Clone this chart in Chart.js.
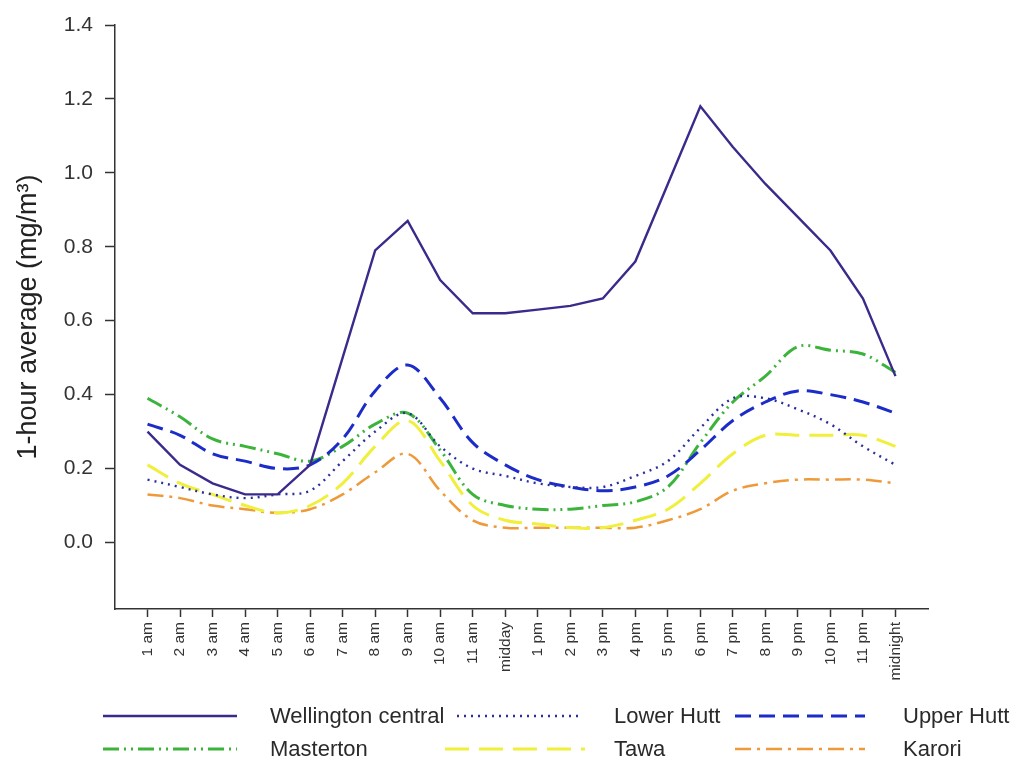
<!DOCTYPE html>
<html>
<head>
<meta charset="utf-8">
<script src="https://cdn.jsdelivr.net/npm/chart.js@4.4.1/dist/chart.umd.min.js"></script>
<style>
  html, body { margin: 0; padding: 0; background: #fff; }
  #wrap { width: 1016px; height: 762px; position: relative; }
</style>
</head>
<body>
<div id="wrap"><canvas id="myChart" width="1016" height="762"></canvas></div>
<script>
// hour labels along the x axis
const hourLabels = ['1 am', '2 am', '3 am', '4 am', '5 am', '6 am', '7 am', '8 am', '9 am', '10 am', '11 am', 'midday',
    '1 pm', '2 pm', '3 pm', '4 pm', '5 pm', '6 pm', '7 pm', '8 pm', '9 pm', '10 pm', '11 pm', 'midnight'];

// y axis tick values
const yTicks = [0, 0.2, 0.4, 0.6, 0.8, 1.0, 1.2, 1.4];

// 1-hour averages (mg/m3)
const wellington = [0.30, 0.21, 0.16, 0.13, 0.13, 0.21, 0.50, 0.79, 0.87, 0.71, 0.62, 0.62,
    0.63, 0.64, 0.66, 0.76, 0.97, 1.18, 1.07, 0.97, 0.88, 0.79, 0.66, 0.45];
const lowerHutt = [0.17, 0.15, 0.13, 0.12, 0.13, 0.14, 0.22, 0.30, 0.35, 0.26, 0.20, 0.18,
    0.16, 0.15, 0.15, 0.18, 0.22, 0.31, 0.39, 0.39, 0.36, 0.32, 0.26, 0.21];
const upperHutt = [0.32, 0.29, 0.24, 0.22, 0.20, 0.21, 0.28, 0.41, 0.48, 0.39, 0.27, 0.21,
    0.17, 0.15, 0.14, 0.15, 0.18, 0.25, 0.33, 0.38, 0.41, 0.40, 0.38, 0.35];
const masterton = [0.39, 0.34, 0.28, 0.26, 0.24, 0.22, 0.26, 0.32, 0.35, 0.25, 0.13, 0.10,
    0.09, 0.09, 0.10, 0.11, 0.15, 0.27, 0.38, 0.45, 0.53, 0.52, 0.51, 0.46];
const tawa = [0.21, 0.16, 0.13, 0.10, 0.08, 0.10, 0.16, 0.26, 0.33, 0.22, 0.10, 0.06,
    0.05, 0.04, 0.04, 0.06, 0.09, 0.16, 0.24, 0.29, 0.29, 0.29, 0.29, 0.26];
const karori = [0.13, 0.12, 0.10, 0.09, 0.08, 0.09, 0.13, 0.19, 0.24, 0.14, 0.06, 0.04,
    0.04, 0.04, 0.04, 0.04, 0.06, 0.09, 0.14, 0.16, 0.17, 0.17, 0.17, 0.16];

const FONT = '"Liberation Sans", Arial, sans-serif';

// turn a value list into {x, y} points, x = hour number
function toPoints(values) {
    return values.map((v, i) => ({ x: i + 1, y: v }));
}

// legend laid out in a 3 x 2 grid under the axis
const legendSpots = [
    { x1: 103, x2: 237, tx: 270, y: 716 },
    { x1: 457, x2: 582, tx: 614, y: 716 },
    { x1: 735, x2: 865, tx: 903, y: 716 },
    { x1: 103, x2: 237, tx: 270, y: 749 },
    { x1: 445, x2: 585, tx: 614, y: 749 },
    { x1: 735, x2: 865, tx: 903, y: 749 }
];

const gridLegend = {
    id: 'gridLegend',
    afterDraw(chart) {
        const c = chart.ctx;
        chart.data.datasets.forEach((ds, i) => {
            const s = legendSpots[i];
            c.save();
            c.strokeStyle = ds.borderColor;
            c.lineWidth = ds.borderWidth;
            c.setLineDash(ds.borderDash || []);
            c.beginPath();
            c.moveTo(s.x1, s.y);
            c.lineTo(s.x2, s.y);
            c.stroke();
            c.setLineDash([]);
            c.fillStyle = '#2a2a2a';
            c.font = '22px ' + FONT;
            c.textBaseline = 'middle';
            c.fillText(ds.label, s.tx, s.y + 1);
            c.restore();
        });
    }
};

const ctx = document.getElementById('myChart').getContext('2d');
const myChart = new Chart(ctx, {
    type: 'line',
    data: {
        datasets: [
            {
                label: 'Wellington central',
                data: toPoints(wellington),
                borderColor: '#3b2a8c',
                borderWidth: 2.4,
                tension: 0,
            },
            {
                label: 'Lower Hutt',
                data: toPoints(lowerHutt),
                borderColor: '#2a2f9c',
                borderWidth: 2.4,
                borderDash: [2, 5],
                tension: 0.35,
            },
            {
                label: 'Upper Hutt',
                data: toPoints(upperHutt),
                borderColor: '#1c2cc8',
                borderWidth: 3,
                borderDash: [16, 8],
                tension: 0.35,
            },
            {
                label: 'Masterton',
                data: toPoints(masterton),
                borderColor: '#3cb43c',
                borderWidth: 3,
                borderDash: [16, 5, 2, 5, 2, 5],
                tension: 0.35,
            },
            {
                label: 'Tawa',
                data: toPoints(tawa),
                borderColor: '#efef3c',
                borderWidth: 3,
                borderDash: [24, 10],
                tension: 0.35,
            },
            {
                label: 'Karori',
                data: toPoints(karori),
                borderColor: '#ee9a3a',
                borderWidth: 2.5,
                borderDash: [16, 6, 3, 6],
                tension: 0.35,
            },
        ],
    },
    options: {
        responsive: false,
        animation: false,
        layout: { padding: { left: 0, right: 88, top: 25, bottom: 0 } },
        elements: { point: { radius: 0 } },
        plugins: {
            legend: { display: false },
            tooltip: { enabled: false },
        },
        scales: {
            x: {
                type: 'linear',
                min: 0,
                max: 25,
                afterBuildTicks: (scale) => {
                    scale.ticks = hourLabels.map((_, i) => ({ value: i + 1 }));
                },
                afterFit: (scale) => { scale.height = 153; },
                grid: {
                    drawOnChartArea: false,
                    tickLength: 8,
                    tickWidth: 1.5,
                    tickColor: '#333',
                },
                border: { color: '#333', width: 1.5 },
                ticks: {
                    autoSkip: false,
                    maxRotation: 90,
                    minRotation: 90,
                    padding: 5,
                    color: '#333',
                    font: { family: FONT, size: 15.5 },
                    callback: (v) => hourLabels[v - 1],
                },
            },
            y: {
                min: -0.18,
                max: 1.4,
                afterBuildTicks: (scale) => {
                    scale.ticks = yTicks.map(v => ({ value: v }));
                },
                afterFit: (scale) => { scale.width = 115; },
                grid: {
                    drawOnChartArea: false,
                    tickLength: 10,
                    tickWidth: 1.5,
                    tickColor: '#333',
                },
                border: { color: '#333', width: 1.5 },
                ticks: {
                    padding: 12,
                    color: '#333',
                    font: { family: FONT, size: 21 },
                    callback: (v) => v.toFixed(1),
                },
                title: {
                    display: true,
                    text: '1-hour average (mg/m³)',
                    color: '#222',
                    padding: { top: 12, bottom: 0 },
                    font: { family: FONT, size: 27 },
                },
            },
        },
    },
    plugins: [gridLegend],
});
</script>
</body>
</html>
